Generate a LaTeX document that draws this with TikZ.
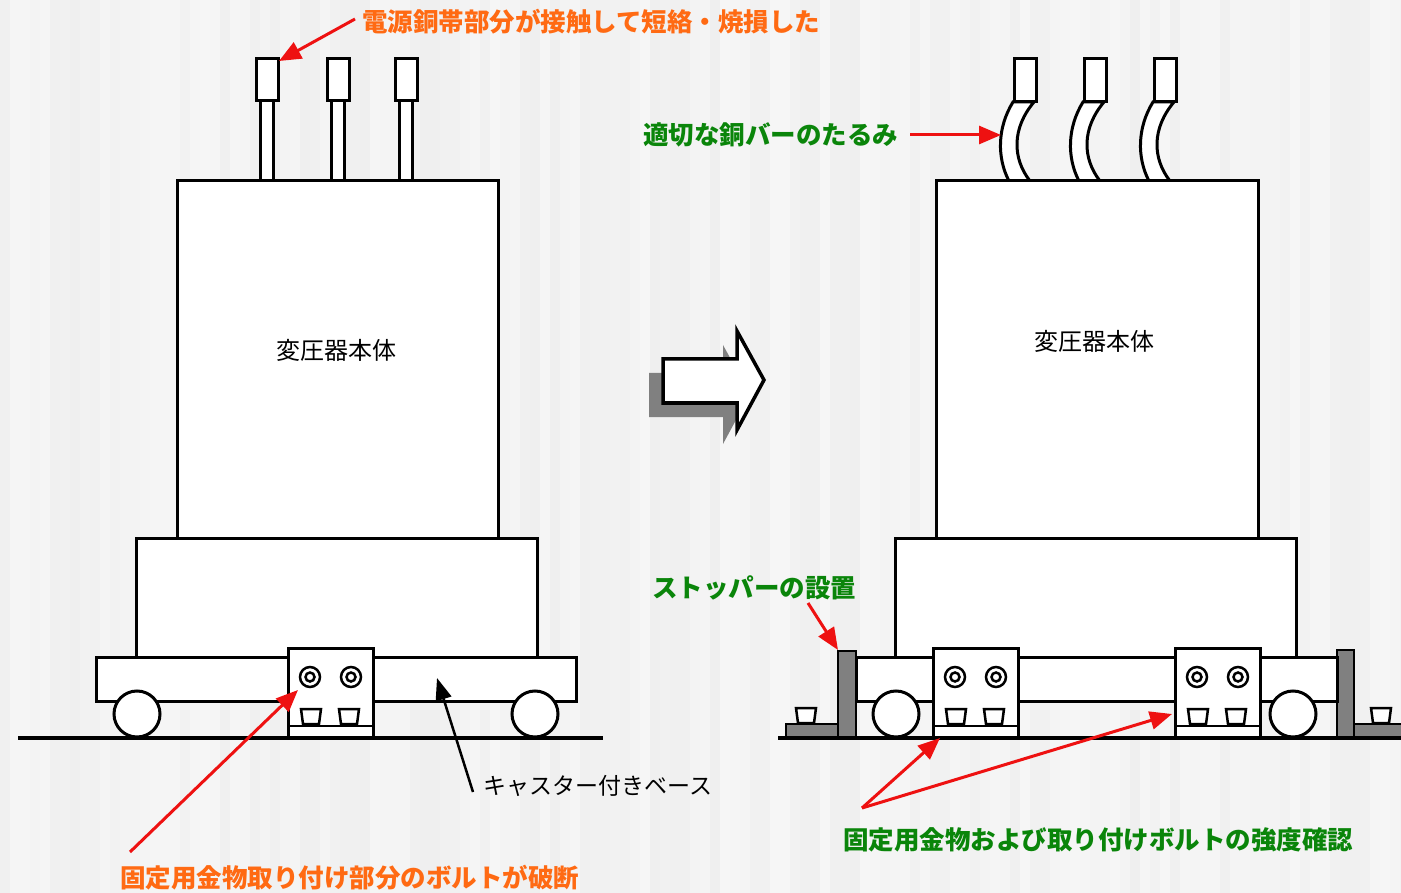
\documentclass[tikz,border=0pt]{standalone}
\usepackage{fontspec}
\setmainfont{Noto Sans CJK JP}
\usetikzlibrary{arrows.meta}

\definecolor{lblorange}{HTML}{FF6A13}
\definecolor{lblgreen}{HTML}{0A850A}
\definecolor{arrowred}{HTML}{EE1111}
\definecolor{steel}{HTML}{808080}

\tikzset{
  part/.style={draw=black, fill=white, line width=3pt},
  stopperbar/.style={draw=black, fill=steel, line width=2.5pt},
  groundline/.style={draw=black, line width=3.5pt},
  redarrow/.style={draw=arrowred, line width=3pt, -{Triangle[length=22pt,width=18pt]}},
  blackarrow/.style={draw=black, line width=2.5pt, -{Triangle[length=22pt,width=16pt]}},
  warnlabel/.style={font=\fontsize{25.5}{30}\selectfont\bfseries, text=lblorange, inner sep=0pt, anchor=west},
  fixlabel/.style={font=\fontsize{25.5}{30}\selectfont\bfseries, text=lblgreen, inner sep=0pt, anchor=west},
  plainlabel/.style={font=\fontsize{23}{28}\selectfont, text=black, inner sep=0pt},
}

% fixing block with two bolts and two cups; #1 = left edge
\newcommand{\fixtureblock}[1]{%
  \draw[part] ({#1},648) rectangle ({#1+85},737);
  \draw[line width=2.5pt] ({#1},726) -- ({#1+85},726);
  \foreach \dx in {22,63} {
    \draw[line width=2.5pt, fill=white] ({#1+\dx},677) circle[radius=10pt];
    \draw[line width=2.5pt] ({#1+\dx},677) circle[radius=4.5pt];
  }
  \foreach \dx in {23,61} {
    \draw[line width=2.5pt, fill=white] ({#1+\dx-10},709) -- ({#1+\dx+10},709)
      -- ({#1+\dx+8},724) -- ({#1+\dx-8},724) -- cycle;
  }
}
% small cup standing on a stopper foot; #1 = centre x
\newcommand{\footcup}[1]{%
  \draw[line width=2.5pt, fill=white] ({#1-10},708) -- ({#1+10},708)
    -- ({#1+8},723) -- ({#1-8},723) -- cycle;
}
\newcommand{\caster}[1]{\draw[part] ({#1},714) circle[radius=23pt];}

\begin{document}
\begin{tikzpicture}[x=1pt, y=-1pt]
\useasboundingbox (0,0) rectangle (1401,893);

% striped light background
\pgfmathsetseed{7}
\foreach \i in {0,...,140} {
  \pgfmathsetmacro\g{3.5+2.8*rnd}
  \fill[black!\g] ({\i*10},0) rectangle ({\i*10+10},893);
}

%% ---------------- left: before ----------------
\draw[groundline] (18,738) -- (603,738);
% straight copper bars with terminals
\foreach \cx in {267,338,406} {
  \draw[part] ({\cx-6.5},101) rectangle ({\cx+6.5},181);
  \draw[part] ({\cx-11},59) rectangle ({\cx+11},101);
}
\draw[part] (177,181) rectangle (498,538);
\node[plainlabel, font=\fontsize{24}{28}\selectfont] (bodyL) at (336,350) {変圧器本体};
\draw[part] (136,538) rectangle (537,657);
\draw[part] (96,657) rectangle (576,701);
\caster{137}
\caster{535}
\fixtureblock{288}

\coordinate (capA) at (279,61);
\coordinate (boltL) at (298,690);
\coordinate (boltTail) at (130,852);
\coordinate (baseL) at (437,678);

\node[warnlabel] (warnTop) at (362,22) {電源銅帯部分が接触して短絡・焼損した};
\node[warnlabel] (warnBolt) at (120,878) {固定用金物取り付け部分のボルトが破断};
\node[plainlabel, anchor=west] (casterLbl) at (483,786) {キャスター付きベース};

\draw[redarrow] ([xshift=-7pt, yshift=3pt]warnTop.west) -- (capA);
\draw[redarrow] (boltTail) -- (boltL);
\draw[blackarrow] ([xshift=-10pt, yshift=-6pt]casterLbl.west) -- (baseL);

%% ---------------- centre arrow ----------------
\fill[steel] (649,373) -- (723,373) -- (723,345) -- (750,394) -- (723,444)
  -- (723,417) -- (649,417) -- cycle;
\draw[line width=3.5pt, fill=white, line join=miter] (663,359) -- (737,359) -- (737,331)
  -- (764,380) -- (737,430) -- (737,403) -- (663,403) -- cycle;

%% ---------------- right: after ----------------
\draw[groundline] (778,738) -- (1401,738);
% stoppers with feet
\draw[stopperbar] (786,724) rectangle (838,737);
\draw[stopperbar] (1354,724) rectangle (1404,737);
\footcup{806}
\footcup{1381}
\draw[stopperbar] (838,651) rectangle (856,737);
\draw[stopperbar] (1337,650) rectangle (1354,737);

% slackened copper bars
\foreach \cx in {1025,1095,1165} {
  \draw[part] ({\cx-12},102) .. controls ({\cx-28},128) and ({\cx-28},158) .. ({\cx-16},181)
    -- ({\cx+5},181) .. controls ({\cx-13},158) and ({\cx-13},128) .. ({\cx+9},102) -- cycle;
  \draw[part] ({\cx-11},59) rectangle ({\cx+11},102);
}
\draw[part] (936,181) rectangle (1258,538);
\node[plainlabel, font=\fontsize{24}{28}\selectfont] (bodyR) at (1094,341) {変圧器本体};
\draw[part] (895,538) rectangle (1296,657);
\draw[part] (856,657) rectangle (1337,701);
\caster{896}
\caster{1293}
\fixtureblock{933}
\fixtureblock{1175}

\coordinate (barR) at (1001,135);
\coordinate (stopL) at (838,650);
\coordinate (stopTail) at (808,603);
\coordinate (blockA) at (940,738);
\coordinate (blockB) at (1172,714);
\coordinate (fork) at (862,808);

\node[fixlabel] (slackLbl) at (643,135) {適切な銅バーのたるみ};
\node[fixlabel] (stopLbl) at (652,588) {ストッパーの設置};
\node[fixlabel] (strengthLbl) at (843,840) {固定用金物および取り付けボルトの強度確認};

\draw[redarrow] ([xshift=12pt]slackLbl.east) -- (barR);
\draw[redarrow] (stopTail) -- (stopL);
\draw[redarrow] (fork) -- (blockA);
\draw[redarrow] (fork) -- (blockB);
\end{tikzpicture}
\end{document}
